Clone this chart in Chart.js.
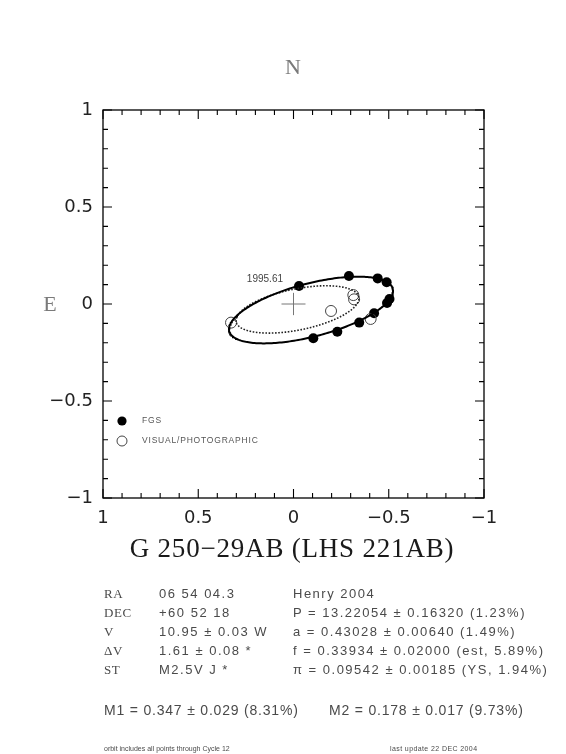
<!DOCTYPE html>
<html><head><meta charset="utf-8">
<script src="https://cdn.jsdelivr.net/npm/chart.js@4.4.1/dist/chart.umd.min.js"></script>
<style>
html,body{margin:0;padding:0;background:#fff;}
#wrap{position:relative;width:566px;height:754px;overflow:hidden;background:#fff;}
#c{position:absolute;left:0;top:0;}
.t{position:absolute;white-space:nowrap;color:#4a4a4a;}
.sans{font-family:'Liberation Sans',Arial,sans-serif;}
.serif{font-family:'Liberation Serif','Times New Roman',serif;}
</style></head><body>
<div id="wrap"><canvas id="c" width="566" height="754"></canvas></div>
<script>
// ---------------- data ----------------
const fgsX = [-0.029, -0.291, -0.442, -0.489, -0.504, -0.491, -0.423, -0.345, -0.230, -0.104];
const fgsY = [ 0.093,  0.144,  0.132,  0.112,  0.026,  0.005, -0.048, -0.096, -0.143, -0.177];
const visX = [ 0.328, -0.197, -0.314, -0.318, -0.405];
const visY = [-0.096, -0.036,  0.046,  0.024, -0.077];
// fitted relative orbit (solid) and photocentric orbit (dotted): centre, semi-axes, tilt (deg)
const fitCenter = [-0.092, -0.031];
const fitAxes = [0.443, 0.137];
const fitTilt = [-14.3];
const photoCenter = [-0.021, -0.028];
const photoAxes = [0.328, 0.106];
const photoTilt = [-11.2];
const primaryCross = [0.063, 0.057];
const epochLabel = ['1995.61'];
const epochPos = [0.15, 0.129];
const majorTicks = [1, 0.5, 0, -0.5, -1];
const tickLabels = ['1', '0.5', '0', '\u22120.5', '\u22121'];
const minorTicks = [1, 0.9, 0.8, 0.7, 0.6, 0.5, 0.4, 0.3, 0.2, 0.1, 0, -0.1, -0.2, -0.3, -0.4, -0.5, -0.6, -0.7, -0.8, -0.9, -1];
const legendNames = ['FGS', 'VISUAL/PHOTOGRAPHIC'];
const starName = ['G 250\u221229AB (LHS 221AB)'];
const infoKeys = ['RA', 'DEC', 'V', '\u0394V', 'ST'];
const infoVals = ['06 54 04.3', '+60 52 18', '10.95 \u00b1 0.03 W', '1.61 \u00b1 0.08 *', 'M2.5V J *'];
const orbitText = ['Henry 2004', 'P = 13.22054 \u00b1 0.16320 (1.23%)', 'a = 0.43028 \u00b1 0.00640 (1.49%)',
  'f = 0.33934 \u00b1 0.02000 (est, 5.89%)', '\u03c0 = 0.09542 \u00b1 0.00185 (YS, 1.94%)'];
const massText = ['M1 = 0.347 \u00b1 0.029 (8.31%)', 'M2 = 0.178 \u00b1 0.017 (9.73%)'];
const footText = ['orbit includes all points through Cycle 12', 'last update 22 DEC 2004'];

// ---------------- build ----------------
function ellipse(c, ax, tiltDeg, n) {
  const th = tiltDeg * Math.PI / 180, out = [];
  for (let i = 0; i <= n; i++) {
    const t = 2 * Math.PI * i / n, u = ax[0] * Math.cos(t), v = ax[1] * Math.sin(t);
    out.push({x: c[0] + u * Math.cos(th) - v * Math.sin(th), y: c[1] + u * Math.sin(th) + v * Math.cos(th)});
  }
  return out;
}
const fgsPts = fgsX.map((x, i) => ({x, y: fgsY[i]}));
const visPts = visX.map((x, i) => ({x, y: visY[i]}));

const boxTicks = {
  id: 'boxTicks',
  afterDatasetsDraw(chart) {
    const {ctx, chartArea: a, scales: {x, y}} = chart;
    ctx.save();
    ctx.strokeStyle = '#000';
    ctx.lineWidth = 1.3;
    ctx.strokeRect(a.left, a.top, a.right - a.left, a.bottom - a.top);
    ctx.lineWidth = 1.1;
    ctx.beginPath();
    minorTicks.forEach(v => {
      const len = majorTicks.includes(v) ? 9 : 5;
      const px = x.getPixelForValue(v), py = y.getPixelForValue(v);
      ctx.moveTo(px, a.bottom); ctx.lineTo(px, a.bottom - len);
      ctx.moveTo(px, a.top); ctx.lineTo(px, a.top + len);
      ctx.moveTo(a.left, py); ctx.lineTo(a.left + len, py);
      ctx.moveTo(a.right, py); ctx.lineTo(a.right - len, py);
    });
    ctx.stroke();
    // epoch label
    ctx.fillStyle = '#444';
    ctx.font = '10px "Liberation Sans", Arial, sans-serif';
    ctx.textAlign = 'center';
    ctx.textBaseline = 'middle';
    ctx.fillText(epochLabel[0], x.getPixelForValue(epochPos[0]), y.getPixelForValue(epochPos[1]));
    // legend
    const lx = a.left + 19, ly1 = a.bottom - 77, ly2 = a.bottom - 57;
    ctx.fillStyle = '#000';
    ctx.beginPath(); ctx.arc(lx, ly1, 4.6, 0, Math.PI * 2); ctx.fill();
    ctx.strokeStyle = '#444'; ctx.lineWidth = 1;
    ctx.beginPath(); ctx.arc(lx, ly2, 5, 0, Math.PI * 2); ctx.stroke();
    ctx.fillStyle = '#555';
    ctx.font = '8.5px "Liberation Sans", Arial, sans-serif';
    ctx.letterSpacing = '0.8px';
    ctx.textAlign = 'left';
    ctx.fillText(legendNames[0], lx + 20, ly1);
    ctx.fillText(legendNames[1], lx + 20, ly2);
    ctx.restore();
  }
};

const tickCb = v => {
  const i = majorTicks.findIndex(m => Math.abs(m - v) < 1e-6);
  return i >= 0 ? tickLabels[i] : '';
};
const tickFont = {family: "'DejaVu Sans', 'Liberation Sans', sans-serif", size: 18};

new Chart(document.getElementById('c'), {
  type: 'scatter',
  data: {
    datasets: [
      {data: ellipse(fitCenter, fitAxes, fitTilt[0], 240), showLine: true, borderColor: '#000', borderWidth: 2,
       pointRadius: 0, fill: false, tension: 0},
      {data: ellipse(photoCenter, photoAxes, photoTilt[0], 240), showLine: true, borderColor: '#222', borderWidth: 1.6,
       borderDash: [1.6, 1.6], pointRadius: 0, fill: false, tension: 0},
      {data: [{x: primaryCross[0], y: 0}, {x: -primaryCross[0], y: 0}], showLine: true, borderColor: '#777',
       borderWidth: 1, pointRadius: 0},
      {data: [{x: 0, y: primaryCross[1]}, {x: 0, y: -primaryCross[1]}], showLine: true, borderColor: '#777',
       borderWidth: 1, pointRadius: 0},
      {data: visPts, pointRadius: 5.5, pointBorderWidth: 1, pointBorderColor: '#444',
       pointBackgroundColor: 'rgba(0,0,0,0)', showLine: false},
      {data: fgsPts, pointRadius: 5, pointBorderWidth: 0, pointBackgroundColor: '#000',
       pointBorderColor: '#000', showLine: false}
    ]
  },
  options: {
    responsive: false, animation: false, devicePixelRatio: 1,
    layout: {padding: {top: 110, right: 82, bottom: 0, left: 0}},
    plugins: {legend: {display: false}, tooltip: {enabled: false}, title: {display: false}},
    scales: {
      x: {
        type: 'linear', min: -1, max: 1, reverse: true,
        afterBuildTicks: s => { s.ticks = minorTicks.map(v => ({value: v})); },
        afterFit: s => { s.height = 256; },
        grid: {display: false, drawTicks: false},
        border: {display: false},
        ticks: {autoSkip: false, maxRotation: 0, padding: 10, color: '#222', font: tickFont, callback: tickCb}
      },
      y: {
        type: 'linear', min: -1, max: 1,
        afterBuildTicks: s => { s.ticks = minorTicks.map(v => ({value: v})); },
        afterFit: s => { s.width = 103; },
        grid: {display: false, drawTicks: false},
        border: {display: false},
        ticks: {autoSkip: false, padding: 10, color: '#222', font: tickFont, callback: tickCb}
      }
    }
  },
  plugins: [boxTicks]
});

// ---------------- text around the chart ----------------
const wrap = document.getElementById('wrap');
function put(txt, cls, x, cy, size, opts) {
  opts = opts || {};
  const d = document.createElement('div');
  d.className = 't ' + cls;
  d.textContent = txt;
  d.style.fontSize = size + 'px';
  d.style.lineHeight = size + 'px';
  d.style.top = (cy - size / 2) + 'px';
  d.style.left = x + 'px';
  if (opts.center) d.style.transform = 'translateX(-50%)';
  if (opts.ls !== undefined) d.style.letterSpacing = opts.ls + 'px';
  if (opts.color) d.style.color = opts.color;
  wrap.appendChild(d);
}
put('N', 'serif', 293, 67, 22, {center: true, color: '#7a7a7a'});
put('E', 'serif', 50, 304, 22, {center: true, color: '#7a7a7a'});
put(starName[0], 'serif', 292, 548, 27, {center: true, color: '#1a1a1a', ls: 0.8});
const rowY = [593, 612, 631, 650, 669];
infoKeys.forEach((k, i) => put(k, 'serif', 104, rowY[i], 13, {ls: 0.6}));
infoVals.forEach((k, i) => put(k, 'sans', 159, rowY[i], 13, {ls: 1.5}));
orbitText.forEach((k, i) => put(k, 'sans', 293, rowY[i], 13, {ls: 1.5}));
put(massText[0], 'sans', 104, 710, 14, {ls: 0.8});
put(massText[1], 'sans', 329, 710, 14, {ls: 0.8});
put(footText[0], 'sans', 104, 748, 7, {ls: 0});
put(footText[1], 'sans', 390, 748, 7, {ls: 0.4});
</script>
</body></html>
